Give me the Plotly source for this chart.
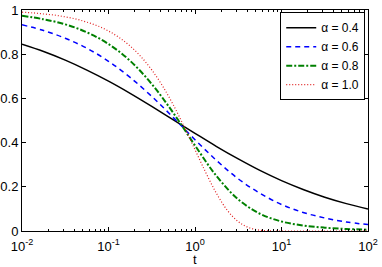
import plotly.graph_objects as go

# time grid (4 points per decade) for alpha = 0.4, 0.6, 0.8
t_coarse = [0.01, 0.01778, 0.03162, 0.05623, 0.1, 0.1778, 0.3162, 0.5623, 1.0,
            1.778, 3.162, 5.623, 10.0, 17.78, 31.62, 56.23, 100.0]
# time grid (8 points per decade) for alpha = 1.0
t_fine = [0.01, 0.01334, 0.01778, 0.02371, 0.03162, 0.04217, 0.05623, 0.07499,
          0.1, 0.1334, 0.1778, 0.2371, 0.3162, 0.4217, 0.5623, 0.7499,
          1.0, 1.334, 1.778, 2.371, 3.162, 4.217, 5.623, 7.499,
          10.0, 13.34, 17.78, 23.71, 31.62, 42.17, 56.23, 74.99, 100.0]

y_a04 = [0.845, 0.812, 0.773, 0.728, 0.678, 0.623, 0.564, 0.503, 0.442,
         0.382, 0.326, 0.274, 0.228, 0.188, 0.153, 0.124, 0.100]
y_a06 = [0.933, 0.907, 0.872, 0.827, 0.768, 0.695, 0.609, 0.513, 0.413,
         0.319, 0.236, 0.171, 0.120, 0.084, 0.059, 0.041, 0.029]
y_a08 = [0.974, 0.958, 0.935, 0.899, 0.846, 0.770, 0.665, 0.534, 0.387,
         0.248, 0.143, 0.078, 0.043, 0.025, 0.015, 0.009, 0.006]
y_a10 = [0.990, 0.987, 0.982, 0.977, 0.969, 0.959, 0.945, 0.928,
         0.905, 0.875, 0.837, 0.789, 0.729, 0.656, 0.570, 0.472,
         0.368, 0.264, 0.169, 0.093, 0.042, 0.015, 0.0036, 0.0006,
         0.0, 0.0, 0.0, 0.0, 0.0, 0.0, 0.0, 0.0, 0.0]

labels = ["α = 0.4", "α = 0.6", "α = 0.8", "α = 1.0"]
x_title = "t"
x_ticks = [0.01, 0.1, 1, 10, 100]
x_ticktext = ["10<sup>-2</sup>", "10<sup>-1</sup>", "10<sup>0</sup>", "10<sup>1</sup>", "10<sup>2</sup>"]
y_ticks = [0, 0.2, 0.4, 0.6, 0.8, 1]
x_minor = [m * 10 ** e for e in range(-2, 2) for m in range(2, 10)]

fig = go.Figure()
fig.add_trace(go.Scatter(x=t_coarse, y=y_a04, mode="lines", name=labels[0],
                         line=dict(color="black", width=1.5, shape="spline")))
fig.add_trace(go.Scatter(x=t_coarse, y=y_a06, mode="lines", name=labels[1],
                         line=dict(color="#0000ff", width=1.5, dash="5px,4px", shape="spline")))
fig.add_trace(go.Scatter(x=t_coarse, y=y_a08, mode="lines", name=labels[2],
                         line=dict(color="#008000", width=2, dash="6px,2px,2px,2px", shape="spline")))
fig.add_trace(go.Scatter(x=t_fine, y=y_a10, mode="lines", name=labels[3],
                         line=dict(color="#e02020", width=1.2, dash="1px,2px", shape="spline")))

fig.update_layout(
    width=382, height=267,
    margin=dict(l=22, r=14, t=10, b=36, autoexpand=False),
    paper_bgcolor="white", plot_bgcolor="white",
    font=dict(family="Liberation Sans, Arial", size=13, color="black"),
    showlegend=True,
    legend=dict(x=0.992, y=0.99, xanchor="right", yanchor="top",
                bgcolor="white", bordercolor="black", borderwidth=1,
                font=dict(size=12), tracegroupgap=0, itemwidth=30),
    annotations=[dict(text=x_title, x=0.5, y=-0.1267, xref="paper", yref="paper",
                      xanchor="center", yanchor="middle", showarrow=False,
                      borderpad=0, font=dict(size=13))],
)
fig.update_xaxes(
    type="log", range=[-2, 2], showgrid=False, zeroline=False, automargin=False,
    showline=True, linecolor="black", linewidth=1, mirror="ticks",
    ticks="inside", ticklen=4, tickcolor="black",
    tickmode="array", tickvals=x_ticks, ticktext=x_ticktext,
    tickfont=dict(size=13), ticklabeloverflow="allow", ticklabelstandoff=3,
    minor=dict(tickmode="array", tickvals=x_minor, ticks="inside", ticklen=2, tickcolor="black"),
)
fig.update_yaxes(
    range=[0, 1], showgrid=False, zeroline=False, automargin=False,
    showline=True, linecolor="black", linewidth=1, mirror="ticks",
    ticks="inside", ticklen=4, tickcolor="black",
    tickmode="array", tickvals=y_ticks, tickfont=dict(size=13),
    ticklabeloverflow="allow",
)
fig.write_html("out.html", config={"displayModeBar": False},
               post_script="document.body.style.margin='0';document.body.style.padding='0';")
